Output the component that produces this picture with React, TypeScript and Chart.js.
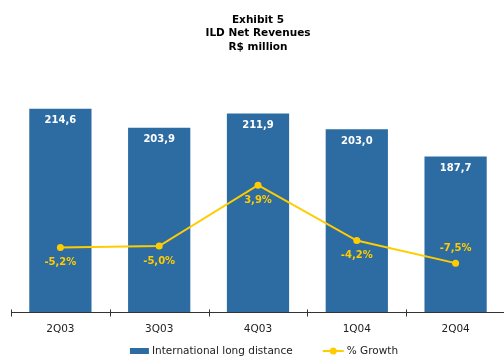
import React, { useEffect, useRef } from "react";
import { Chart, registerables } from "chart.js";

Chart.register(...registerables);

// ---- data ----
const categories = ["2Q03", "3Q03", "4Q03", "1Q04", "2Q04"];
const revenues = [214.6, 203.9, 211.9, 203.0, 187.7];
const growth = [-5.2, -5.0, 3.9, -4.2, -7.5];
const revenueLabels = ["214,6", "203,9", "211,9", "203,0", "187,7"];
const growthLabels = ["-5,2%", "-5,0%", "3,9%", "-4,2%", "-7,5%"];
const growthLabelSide = ["below", "below", "below", "below", "above"];
const titleLines = ["Exhibit 5", "ILD Net Revenues", "R$ million"];
const seriesNames = ["International long distance", "% Growth"];

const BLUE = "#2C6CA2";
const YELLOW = "#FFCC00";
const FONT = "'DejaVu Sans', Verdana, sans-serif";

const overlayPlugin = {
  id: "overlay",
  afterDatasetsDraw(chart: any) {
    const ctx = chart.ctx;
    const area = chart.chartArea;
    ctx.save();
    // value labels
    ctx.font = `bold 10px ${FONT}`;
    ctx.textAlign = "center";
    ctx.textBaseline = "middle";
    const barMeta = chart.getDatasetMeta(0);
    barMeta.data.forEach((el: any, i: number) => {
      ctx.fillStyle = "#FFFFFF";
      ctx.fillText(revenueLabels[i], el.x, el.y + 12);
    });
    const lineMeta = chart.getDatasetMeta(1);
    lineMeta.data.forEach((el: any, i: number) => {
      ctx.fillStyle = YELLOW;
      const dy = growthLabelSide[i] === "above" ? -15 : 15;
      ctx.fillText(growthLabels[i], el.x, el.y + dy);
    });
    // x axis line and tick marks between categories
    const xs = chart.scales.x;
    const yb = Math.round(area.bottom) + 0.5;
    ctx.strokeStyle = "#333333";
    ctx.lineWidth = 1;
    ctx.beginPath();
    ctx.moveTo(area.left, yb);
    ctx.lineTo(area.right, yb);
    const n = categories.length;
    for (let i = 0; i <= n; i++) {
      let bx;
      if (i === 0) bx = area.left;
      else if (i === n) bx = area.right;
      else bx = (xs.getPixelForValue(i - 1) + xs.getPixelForValue(i)) / 2;
      bx = Math.round(bx) + 0.5;
      ctx.moveTo(bx, yb - 3);
      ctx.lineTo(bx, yb + 4);
    }
    ctx.stroke();
    ctx.restore();
  },
  afterDraw(chart: any) {
    const ctx = chart.ctx;
    const area = chart.chartArea;
    ctx.save();
    const y = chart.height - 7;
    ctx.font = `10.5px ${FONT}`;
    ctx.textBaseline = "middle";
    ctx.textAlign = "left";
    const w0 = ctx.measureText(seriesNames[0]).width;
    const w1 = ctx.measureText(seriesNames[1]).width;
    const boxW = 19, lineW = 21, gapText = 3, gapItems = 30;
    const total = boxW + gapText + w0 + gapItems + lineW + gapText + w1;
    const cx = (area.left + area.right) / 2 + 6;
    let x = cx - total / 2;
    ctx.fillStyle = BLUE;
    ctx.fillRect(x, y - 3, boxW, 6);
    x += boxW + gapText;
    ctx.fillStyle = "#222222";
    ctx.fillText(seriesNames[0], x, y);
    x += w0 + gapItems;
    ctx.strokeStyle = YELLOW;
    ctx.lineWidth = 2;
    ctx.beginPath();
    ctx.moveTo(x, y);
    ctx.lineTo(x + lineW, y);
    ctx.stroke();
    ctx.fillStyle = YELLOW;
    ctx.beginPath();
    ctx.arc(x + lineW / 2, y, 3.5, 0, Math.PI * 2);
    ctx.fill();
    x += lineW + gapText;
    ctx.fillStyle = "#222222";
    ctx.fillText(seriesNames[1], x, y);
    ctx.restore();
  },
};

export default function App() {
  const canvasRef = useRef<HTMLCanvasElement | null>(null);

  useEffect(() => {
    const canvas = canvasRef.current;
    if (!canvas) return;
    const chart = new Chart(canvas, {
      type: "bar",
      data: {
        labels: categories,
        datasets: [
          {
            type: "bar",
            label: seriesNames[0],
            data: revenues,
            backgroundColor: BLUE,
            borderWidth: 0,
            categoryPercentage: 1,
            barPercentage: 0.63,
            yAxisID: "y",
            order: 2,
          } as any,
          {
            type: "line",
            label: seriesNames[1],
            data: growth,
            borderColor: YELLOW,
            backgroundColor: YELLOW,
            borderWidth: 2,
            pointRadius: 3.5,
            pointBorderWidth: 0,
            pointBackgroundColor: YELLOW,
            tension: 0,
            yAxisID: "y1",
            order: 1,
          } as any,
        ],
      },
      options: {
        responsive: false,
        animation: false,
        devicePixelRatio: 1,
        layout: { padding: { left: 11, right: 11, top: 0, bottom: 19 } },
        plugins: {
          legend: { display: false },
          tooltip: { enabled: false },
          title: {
            display: true,
            text: titleLines,
            color: "#000000",
            font: { family: FONT, size: 10.5, weight: "bold", lineHeight: 1.3 },
            padding: { top: 13, bottom: 6 },
          },
        },
        scales: {
          x: {
            offset: true,
            grid: { display: false },
            border: { display: false },
            ticks: {
              color: "#222222",
              font: { family: FONT, size: 10.5 },
              padding: 3,
              maxRotation: 0,
            },
          },
          y: { display: false, min: 100, max: 242 },
          y1: { display: false, min: -14.7, max: 22.2, position: "right" },
        },
      },
      plugins: [overlayPlugin],
    });
    return () => chart.destroy();
  }, []);

  return (
    <div
      style={{
        position: "absolute",
        left: 0,
        top: 0,
        width: 504,
        height: 358,
        overflow: "hidden",
        background: "#ffffff",
      }}
    >
      <canvas
        ref={canvasRef}
        width={516}
        height={358}
        style={{ width: 516, height: 358, display: "block" }}
      />
    </div>
  );
}
